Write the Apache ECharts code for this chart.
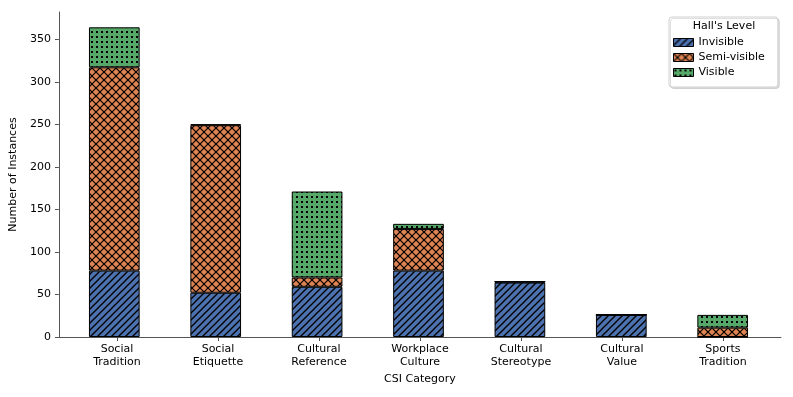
<!DOCTYPE html>
<html>
<head>
<meta charset="utf-8">
<script src="https://cdn.jsdelivr.net/npm/echarts@6/dist/echarts.min.js"></script>
<style>
  html, body { margin: 0; padding: 0; background: #fff; }
  #chart { width: 793px; height: 397px; }
</style>
</head>
<body>
<div id="chart"></div>
<script>
const categories = ['Social Tradition', 'Social Etiquette', 'Cultural Reference', 'Workplace Culture',
  'Cultural Stereotype', 'Cultural Value', 'Sports Tradition'];
const invisible = [78, 52, 59, 78, 64, 26, 0];
const semiVisible = [239, 197, 11, 49, 1, 0, 11];
const visible = [47, 1, 101, 6, 0, 0, 15];
const yTicks = [0, 50, 100, 150, 200, 250, 300, 350];
const xPositions = categories.map((_, i) => i);

const font = 'DejaVu Sans';
const yMax = 382;

// hatch fills, like matplotlib's '///', 'xx' and '..'
function hatch(bg, kind) {
  const s = kind === 'dots' ? 5 : kind === 'x' ? 8 : 7;
  const c = document.createElement('canvas');
  c.width = s; c.height = s;
  const ctx = c.getContext('2d');
  ctx.fillStyle = bg;
  ctx.fillRect(0, 0, s, s);
  ctx.strokeStyle = '#000';
  ctx.fillStyle = '#000';
  ctx.lineWidth = kind === 'x' ? 1.2 : 1.3;
  if (kind === 'dots') {
    ctx.fillRect(1, 1, 2, 2);
    return c;
  }
  for (const o of [-s, 0, s]) {
    ctx.beginPath();
    ctx.moveTo(o - 1, s + 1);
    ctx.lineTo(o + s + 1, -1);
    ctx.stroke();
    if (kind === 'x') {
      ctx.beginPath();
      ctx.moveTo(o - 1, -1);
      ctx.lineTo(o + s + 1, s + 1);
      ctx.stroke();
    }
  }
  return c;
}

const fills = {
  invisible: { image: hatch('#4C72B0', '/'), repeat: 'repeat' },
  semi: { image: hatch('#DD8452', 'x'), repeat: 'repeat' },
  visible: { image: hatch('#55A868', 'dots'), repeat: 'repeat' }
};

function barSeries(name, values, fill) {
  return {
    name,
    type: 'bar',
    stack: 'total',
    xAxisIndex: 1,
    yAxisIndex: 1,
    barWidth: '50%',
    data: values,
    itemStyle: { color: fill, borderColor: '#000', borderWidth: 1 },
    emphasis: { disabled: true }
  };
}

// grid 0 carries the visible spines (matplotlib-like margins), grid 1 holds the bars
const plotLeft = 56, plotRight = 781, xMin = -0.575, xMax = 6.575;
const unit = (plotRight - plotLeft) / (xMax - xMin);
const barLeft = plotLeft + (-0.5 - xMin) * unit;
const barWidthPx = categories.length * unit;

const chart = echarts.init(document.getElementById('chart'));
chart.setOption({
  animation: false,
  backgroundColor: '#fff',
  textStyle: { fontFamily: font },
  grid: [
    { left: plotLeft, width: plotRight - plotLeft, top: 12, bottom: 60 },
    { left: barLeft, width: barWidthPx, top: 12, bottom: 60 }
  ],
  legend: {
    orient: 'vertical',
    left: 669,
    top: 17,
    padding: [19, 13, 8, 4],
    icon: 'rect',
    itemWidth: 20,
    itemHeight: 8,
    itemGap: 2,
    itemStyle: { borderColor: '#000', borderWidth: 1 },
    textStyle: { fontFamily: font, fontSize: 11, color: '#000', lineHeight: 13 },
    backgroundColor: '#fff',
    borderColor: '#d0d0d0',
    borderWidth: 1,
    borderRadius: 3,
    shadowColor: 'rgba(0,0,0,0.12)',
    shadowBlur: 0,
    shadowOffsetX: 1.5,
    shadowOffsetY: 1.5,
    data: ['Invisible', 'Semi-visible', 'Visible']
  },
  graphic: [{
    type: 'text',
    x: 724,
    y: 26,
    z: 100,
    style: {
      text: "Hall's Level",
      fontFamily: font,
      fontSize: 11,
      fill: '#000',
      textAlign: 'center',
      textVerticalAlign: 'middle'
    }
  }],
  xAxis: [
    {
      gridIndex: 0,
      type: 'value',
      min: xMin,
      max: xMax,
      name: 'CSI Category',
      nameLocation: 'middle',
      nameGap: 34,
      nameTextStyle: { fontFamily: font, fontSize: 11, color: '#000' },
      axisLine: { show: true, onZero: false, lineStyle: { color: '#555', width: 1 } },
      axisTick: { show: true, length: 4, customValues: xPositions, lineStyle: { color: '#555' } },
      axisLabel: {
        customValues: xPositions,
        margin: 6,
        fontFamily: font,
        fontSize: 11,
        color: '#000',
        lineHeight: 13,
        formatter: v => (categories[Math.round(v)] || '').replace(' ', '\n')
      },
      splitLine: { show: false }
    },
    {
      gridIndex: 1,
      type: 'category',
      data: categories,
      show: false
    }
  ],
  yAxis: [
    {
      gridIndex: 0,
      type: 'value',
      min: 0,
      max: yMax,
      name: 'Number of Instances',
      nameLocation: 'middle',
      nameRotate: 90,
      nameGap: 32,
      nameTextStyle: { fontFamily: font, fontSize: 11, color: '#000' },
      axisLine: { show: true, onZero: false, lineStyle: { color: '#555', width: 1 } },
      axisTick: { show: true, length: 4, customValues: yTicks, lineStyle: { color: '#555' } },
      axisLabel: { customValues: yTicks, margin: 8, fontFamily: font, fontSize: 11, color: '#000' },
      splitLine: { show: false }
    },
    {
      gridIndex: 1,
      type: 'value',
      min: 0,
      max: yMax,
      show: false,
      splitLine: { show: false }
    }
  ],
  series: [
    barSeries('Invisible', invisible, fills.invisible),
    barSeries('Semi-visible', semiVisible, fills.semi),
    barSeries('Visible', visible, fills.visible)
  ]
});
</script>
</body>
</html>
